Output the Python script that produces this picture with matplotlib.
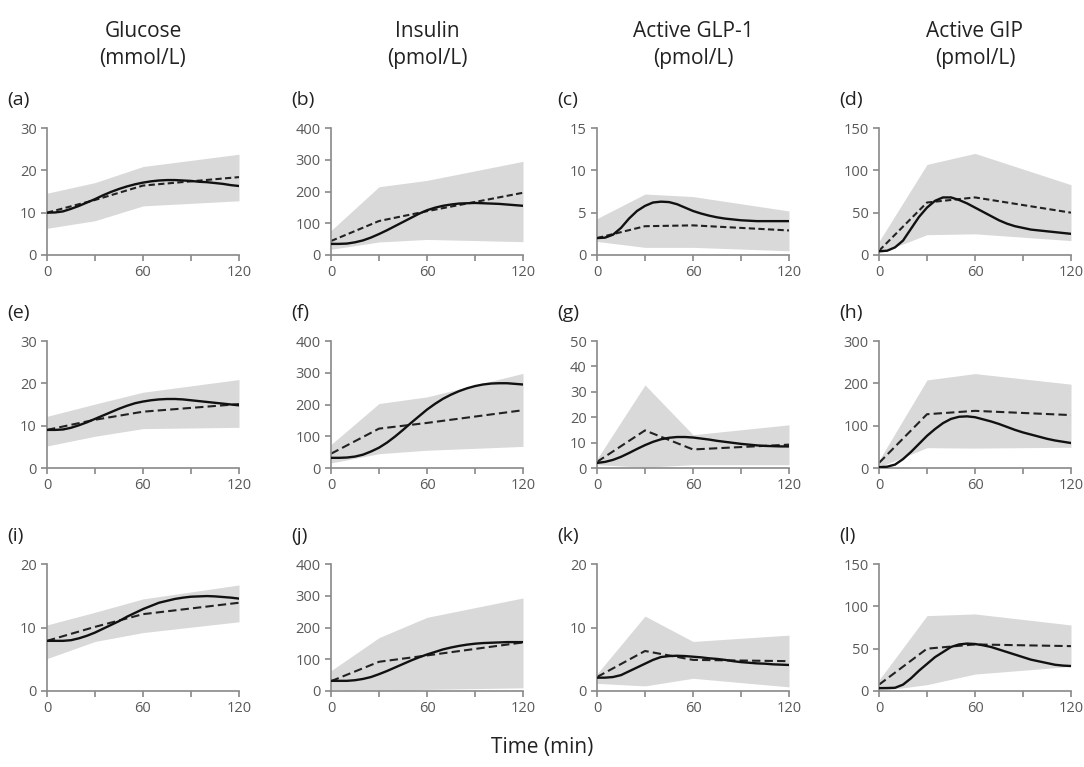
import matplotlib
matplotlib.use("Agg")
import matplotlib.pyplot as plt

plt.rcParams['font.family'] = ['Open Sans', 'DejaVu Sans']

# observation times and model times
t_obs = [0, 30, 60, 120]
t_mod = list(range(0, 125, 5))

titles = ["Glucose\n(mmol/L)", "Insulin\n(pmol/L)", "Active GLP-1\n(pmol/L)", "Active GIP\n(pmol/L)"]
letters = ["(a)", "(b)", "(c)", "(d)", "(e)", "(f)", "(g)", "(h)", "(i)", "(j)", "(k)", "(l)"]
ymax = [30, 400, 15, 150, 30, 400, 50, 300, 20, 400, 20, 150]
ystep = [10, 100, 5, 50, 10, 100, 10, 100, 10, 100, 10, 50]

# shaded range (lower / upper) at observation times
band_lo = [
    [6.3, 8.1, 11.6, 12.8], [18, 41, 49, 42], [1.6, 0.9, 0.9, 0.5], [2, 24, 25, 17],
    [5.2, 7.5, 9.3, 9.6], [16, 45, 56, 68], [1.3, 0.3, 1.3, 1.3], [2, 48, 47, 49],
    [5.1, 7.8, 9.2, 10.9], [5, 3, 5, 10], [1.2, 0.8, 2.0, 0.65], [0, 7.5, 20, 29],
]
band_hi = [
    [14.6, 17.1, 20.9, 23.8], [77, 215, 235, 295], [4.3, 7.2, 6.9, 5.2], [16, 107, 120, 83],
    [12.2, 15.1, 17.9, 20.9], [74, 203, 224, 298], [3.5, 32.7, 13.1, 17], [18, 208, 223, 198],
    [10.4, 12.4, 14.5, 16.7], [64, 168, 232, 293], [2.7, 11.8, 7.8, 8.8], [13, 89, 91, 78],
]
# observed means (dashed)
obs = [
    [10.0, 13.0, 16.4, 18.4], [44, 107, 138, 196], [2.0, 3.4, 3.5, 2.9], [5, 62, 68, 50],
    [9.0, 11.4, 13.3, 15.1], [45, 124, 142, 182], [2.4, 14.8, 7.3, 9.2], [12, 127, 135, 125],
    [7.9, 10.1, 12.1, 13.9], [31, 92, 112, 153], [2.2, 6.3, 4.9, 4.7], [7.5, 50, 55, 53],
]
# model (solid), every 5 min
model = [
    [10.0, 10.05, 10.3, 10.9, 11.6, 12.4, 13.2, 14.1, 14.9, 15.6, 16.2, 16.7, 17.1,
     17.4, 17.6, 17.7, 17.7, 17.6, 17.5, 17.3, 17.2, 17.0, 16.8, 16.5, 16.3],
    [35, 35, 36, 40, 46, 55, 66, 78, 91, 104, 117, 130, 141,
     149, 155, 159, 162, 163, 164, 163, 162, 161, 159, 157, 155],
    [2.0, 2.05, 2.4, 3.2, 4.3, 5.2, 5.8, 6.2, 6.3, 6.25, 6.0, 5.6, 5.2,
     4.9, 4.65, 4.45, 4.3, 4.2, 4.1, 4.05, 4.0, 4.0, 4.0, 4.0, 4.0],
    [4.5, 5, 9, 17, 31, 45, 56, 64, 68, 68, 65, 61, 56,
     51, 46, 41, 37, 34, 32, 30, 29, 28, 27, 26, 25],
    [9.0, 9.0, 9.1, 9.5, 10.1, 10.8, 11.6, 12.4, 13.2, 14.0, 14.7, 15.3, 15.7,
     16.0, 16.2, 16.3, 16.3, 16.2, 16.0, 15.8, 15.6, 15.4, 15.2, 15.0, 14.8],
    [32, 32, 33, 36, 42, 52, 64, 80, 99, 120, 142, 163, 184,
     202, 218, 231, 242, 251, 258, 263, 266, 267, 267, 265, 263],
    [2.0, 2.4, 3.2, 4.4, 5.9, 7.5, 9.0, 10.3, 11.3, 11.9, 12.2, 12.2, 12.0,
     11.6, 11.2, 10.7, 10.3, 9.9, 9.5, 9.2, 8.9, 8.7, 8.6, 8.5, 8.5],
    [2, 3, 8, 21, 38, 57, 76, 92, 106, 116, 121, 122, 120,
     115, 110, 104, 97, 90, 84, 79, 74, 69, 65, 62, 59],
    [7.9, 7.9, 7.9, 8.0, 8.3, 8.7, 9.2, 9.8, 10.4, 11.0, 11.7, 12.3, 12.9,
     13.4, 13.9, 14.2, 14.5, 14.7, 14.85, 14.9, 14.95, 14.9, 14.8, 14.7, 14.55],
    [32, 32, 32, 34, 38, 44, 53, 63, 74, 85, 96, 106, 115,
     123, 131, 137, 142, 146, 149, 151, 152, 153, 154, 154, 154],
    [2.1, 2.1, 2.2, 2.5, 3.1, 3.7, 4.3, 4.9, 5.35, 5.5, 5.55, 5.5, 5.4,
     5.3, 5.15, 5.05, 4.9, 4.7, 4.55, 4.45, 4.35, 4.3, 4.2, 4.15, 4.1],
    [3.4, 3.5, 3.8, 7.5, 15, 24, 32, 40, 46, 52, 55, 56, 55.5,
     54, 52, 49, 46, 43, 40, 37, 35, 33, 31, 30, 29.5],
]

W, H = 1084, 767
fig = plt.figure(figsize=(W / 100, H / 100), dpi=100)

col_left = [47, 331, 597, 879]
ax_w = 192
row_top = [128, 341, 564]
ax_h = 127

grey = "#898989"
for i in range(12):
    r, c = divmod(i, 4)
    left = col_left[c]
    top = row_top[r]
    ax = fig.add_axes([left / W, 1 - (top + ax_h) / H, ax_w / W, ax_h / H])
    ax.fill_between(t_obs, band_lo[i], band_hi[i], color="#d9d9d9", lw=0, zorder=1)
    ax.plot(t_obs, obs[i], color="#222222", lw=1.5,
            linestyle=(0, (3, 1.6)) if r == 0 else (0, (4, 2)), zorder=2)
    ax.plot(t_mod, model[i], color="#111111", lw=1.7, zorder=3)

    ax.set_xlim(0, 120)
    ax.set_ylim(0, ymax[i])
    ax.set_xticks([0, 30, 60, 90, 120])
    ax.set_xticklabels(["0", "", "60", "", "120"])
    ax.set_yticks(range(0, ymax[i] + 1, ystep[i]))
    for s in ["top", "right"]:
        ax.spines[s].set_visible(False)
    for s in ["left", "bottom"]:
        ax.spines[s].set_color(grey)
        ax.spines[s].set_linewidth(1.2)
    ax.tick_params(colors=grey, labelcolor="#595959", labelsize=10.5, length=4, width=1.2)
    ax.margins(0)

    fig.text((left - 40) / W, 1 - (top - 28) / H, letters[i], fontsize=14,
             ha="left", va="center", color="#222222")
    if r == 0:
        fig.text((left + ax_w / 2) / W, 1 - 45 / H, titles[c], fontsize=15,
                 ha="center", va="center", linespacing=1.35, color="#222222")

fig.text(0.5, 1 - 747 / H, "Time (min)", fontsize=15, ha="center", va="center", color="#222222")

fig.savefig("out.png", dpi=100)
